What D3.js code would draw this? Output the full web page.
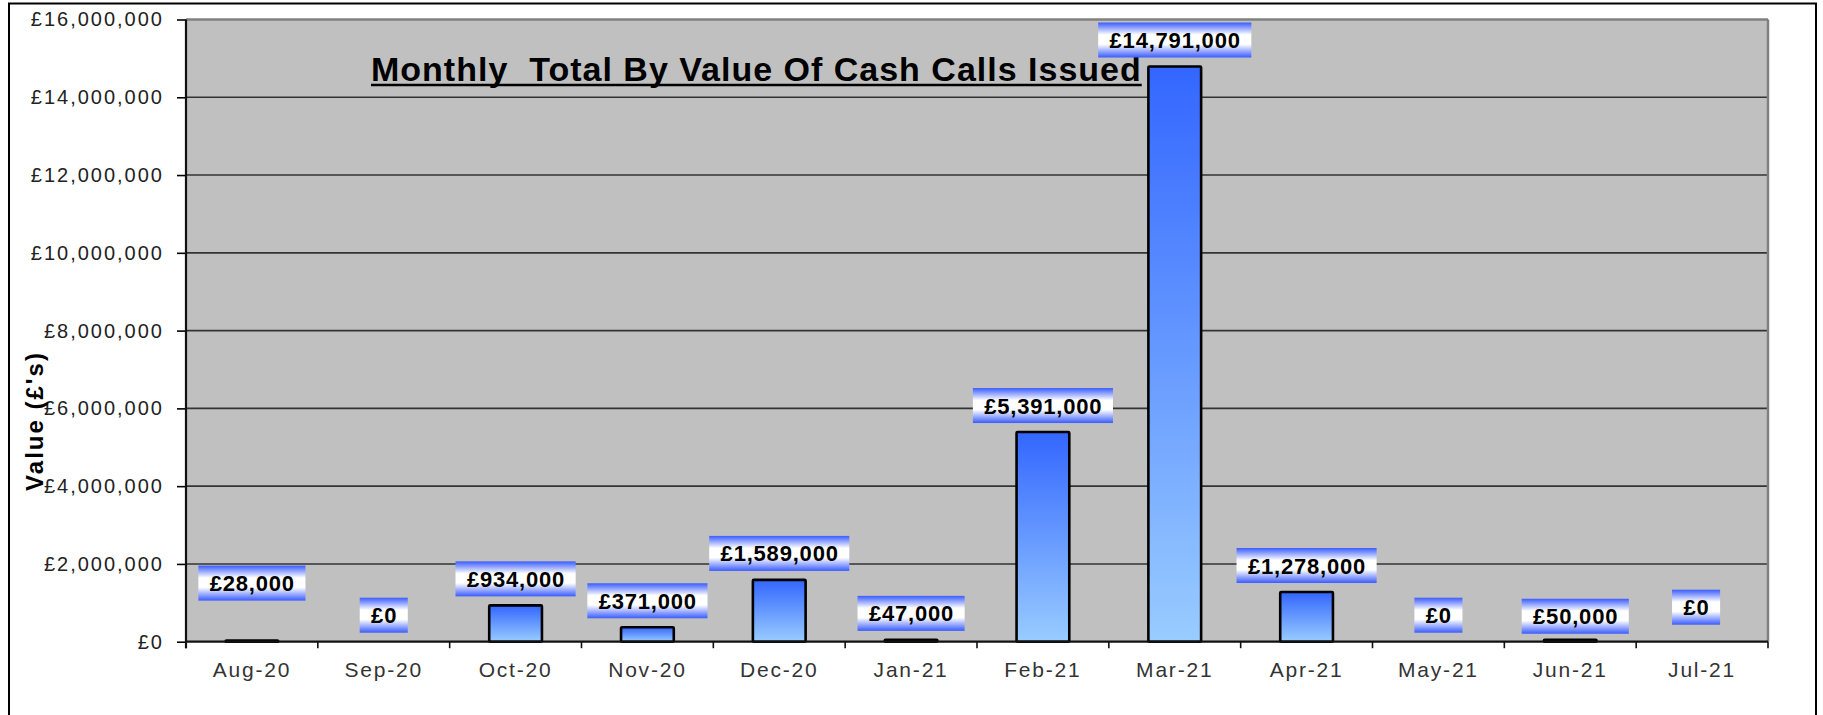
<!DOCTYPE html>
<html>
<head>
<meta charset="utf-8">
<script src="https://cdn.jsdelivr.net/npm/d3@7"></script>
<style>
  html, body { margin: 0; padding: 0; background: #fff; }
  svg { display: block; font-family: 'Liberation Sans', Arial, sans-serif; }
  .ytick text { font-size: 20px; fill: #222; letter-spacing: 2px; }
  .xtick text { font-size: 21px; fill: #333; letter-spacing: 1.8px; }
  .bar-label { font-size: 22px; font-weight: bold; fill: #000; letter-spacing: 0.8px; }
  .chart-title { font-size: 34px; font-weight: bold; fill: #000; letter-spacing: 1px; }
  .axis-title { font-size: 24px; font-weight: bold; fill: #000; letter-spacing: 2px; }
</style>
</head>
<body>
<div id="chart"></div>
<script>
const months = ['Aug-20', 'Sep-20', 'Oct-20', 'Nov-20', 'Dec-20', 'Jan-21', 'Feb-21', 'Mar-21', 'Apr-21', 'May-21', 'Jun-21', 'Jul-21']
const values = [28000, 0, 934000, 371000, 1589000, 47000, 5391000, 14791000, 1278000, 0, 50000, 0]
const yTicks = [0, 2000000, 4000000, 6000000, 8000000, 10000000, 12000000, 14000000, 16000000]
const titleText = 'Monthly  Total By Value Of Cash Calls Issued'
const yTitleText = "Value (£'s)"

// labels that were dragged by hand in the original sheet (px offsets)
const labelNudge = { 'Aug-20': [0, -31], 'Jun-21': [5, 3], 'Jul-21': [-6, -8] }

const width = 1823
const height = 715
const margin = { top: 19.5, right: 55, bottom: 73.3, left: 186 }
const innerW = width - margin.left - margin.right
const innerH = height - margin.top - margin.bottom

const fmtMoney = (v) => '£' + d3.format(',')(v)
const data = months.map((m, i) => ({ month: m, value: values[i] }))

const svg = d3.select('#chart').append('svg').attr('width', width).attr('height', height)

const defs = svg.append('defs')
const barGrad = defs.append('linearGradient').attr('id', 'barGrad').attr('x1', 0).attr('y1', 0).attr('x2', 0).attr('y2', 1)
barGrad.append('stop').attr('offset', '0%').attr('stop-color', '#3366ff')
barGrad.append('stop').attr('offset', '100%').attr('stop-color', '#99ccff')

const lblGrad = defs.append('linearGradient').attr('id', 'lblGrad').attr('x1', 0).attr('y1', 0).attr('x2', 0).attr('y2', 1)
lblGrad.append('stop').attr('offset', '0%').attr('stop-color', '#3a5cff')
lblGrad.append('stop').attr('offset', '35%').attr('stop-color', '#ffffff')
lblGrad.append('stop').attr('offset', '62%').attr('stop-color', '#ffffff')
lblGrad.append('stop').attr('offset', '100%').attr('stop-color', '#3a5cff')

// outer frame
svg.append('rect')
  .attr('x', 9).attr('y', 3.5).attr('width', 1807).attr('height', 720)
  .attr('fill', 'none').attr('stroke', '#000').attr('stroke-width', 2)

const g = svg.append('g').attr('transform', `translate(${margin.left},${margin.top})`)

const x = d3.scaleBand().domain(months).range([0, innerW]).paddingInner(0.6).paddingOuter(0.3)
const y = d3.scaleLinear().domain([0, 16000000]).range([innerH, 0])

// plot background
g.append('rect').attr('x', 0).attr('y', 0).attr('width', innerW).attr('height', innerH).attr('fill', '#c0c0c0')

// gridlines
g.append('g')
  .selectAll('line')
  .data(yTicks.filter((d) => d > 0 && d < 16000000))
  .join('line')
  .attr('x1', 0).attr('x2', innerW)
  .attr('y1', (d) => y(d)).attr('y2', (d) => y(d))
  .attr('stroke', '#333').attr('stroke-width', 1.6)

// top / right plot border
g.append('line').attr('x1', 0).attr('x2', innerW).attr('y1', 0).attr('y2', 0).attr('stroke', '#808080').attr('stroke-width', 2.5)
g.append('line').attr('x1', innerW).attr('x2', innerW).attr('y1', 0).attr('y2', innerH).attr('stroke', '#808080').attr('stroke-width', 2.5)

// title (behind bars)
const title = g.append('text').attr('class', 'chart-title')
  .attr('x', 371 - margin.left).attr('y', 80.7 - margin.top)
  .attr('xml:space', 'preserve')
  .text(titleText)
const tw = title.node().getBBox().width
g.append('line')
  .attr('x1', 371 - margin.left).attr('x2', 371 - margin.left + tw)
  .attr('y1', 85 - margin.top).attr('y2', 85 - margin.top)
  .attr('stroke', '#000').attr('stroke-width', 2.6)

// bars
g.append('g')
  .selectAll('rect')
  .data(data.filter((d) => d.value > 0))
  .join('rect')
  .attr('x', (d) => x(d.month))
  .attr('y', (d) => y(d.value))
  .attr('width', x.bandwidth())
  .attr('height', (d) => y(0) - y(d.value))
  .attr('rx', 1)
  .attr('fill', 'url(#barGrad)')
  .attr('stroke', '#000')
  .attr('stroke-width', 2.6)

// y axis
const yAxisG = g.append('g').attr('class', 'ytick')
  .call(d3.axisLeft(y).tickValues(yTicks).tickFormat(fmtMoney).tickSize(9).tickPadding(13))
yAxisG.select('.domain').remove()
yAxisG.selectAll('.tick line').attr('stroke', '#000').attr('stroke-width', 1.6)
yAxisG.selectAll('text').attr('font-family', null).attr('font-size', null).attr('fill', null)
g.append('line').attr('x1', 0).attr('x2', 0).attr('y1', 0).attr('y2', innerH + 6.5).attr('stroke', '#111').attr('stroke-width', 2.2)

// x axis
const xAxisG = g.append('g').attr('class', 'xtick').attr('transform', `translate(0,${innerH})`)
  .call(d3.axisBottom(x).tickSize(0))
xAxisG.select('.domain').remove()
xAxisG.selectAll('text').attr('font-family', null).attr('font-size', null).attr('fill', null).attr('y', 35.3).attr('dy', 0)
g.append('line').attr('x1', 0).attr('x2', innerW).attr('y1', innerH).attr('y2', innerH).attr('stroke', '#111').attr('stroke-width', 2.2)

const step = x.step()
const x0 = x(months[0]) - x.paddingOuter() * step
g.append('g')
  .selectAll('line')
  .data(d3.range(months.length + 1))
  .join('line')
  .attr('x1', (i) => x0 + i * step).attr('x2', (i) => x0 + i * step)
  .attr('y1', innerH).attr('y2', innerH + 6.5)
  .attr('stroke', '#111').attr('stroke-width', 1.6)

// data labels
const labelG = g.append('g')
data.forEach((d) => {
  const [nx, ny] = labelNudge[d.month] || [0, 0]
  const cx = x(d.month) + x.bandwidth() / 2 + nx
  const boxH = 35
  const boxBottom = y(d.value) - 9 + ny
  const lg = labelG.append('g')
  const box = lg.append('rect').attr('fill', 'url(#lblGrad)')
  const t = lg.append('text').attr('class', 'bar-label')
    .attr('text-anchor', 'middle')
    .attr('x', cx + 0.4)
    .attr('y', boxBottom - boxH + 25.5)
    .text(fmtMoney(d.value))
  const w = t.node().getBBox().width + 22
  box.attr('x', cx - w / 2).attr('y', boxBottom - boxH).attr('width', w).attr('height', boxH)
})

// y axis title
svg.append('text').attr('class', 'axis-title')
  .attr('text-anchor', 'middle')
  .attr('transform', 'translate(43,421) rotate(-90)')
  .text(yTitleText)
</script>
</body>
</html>
